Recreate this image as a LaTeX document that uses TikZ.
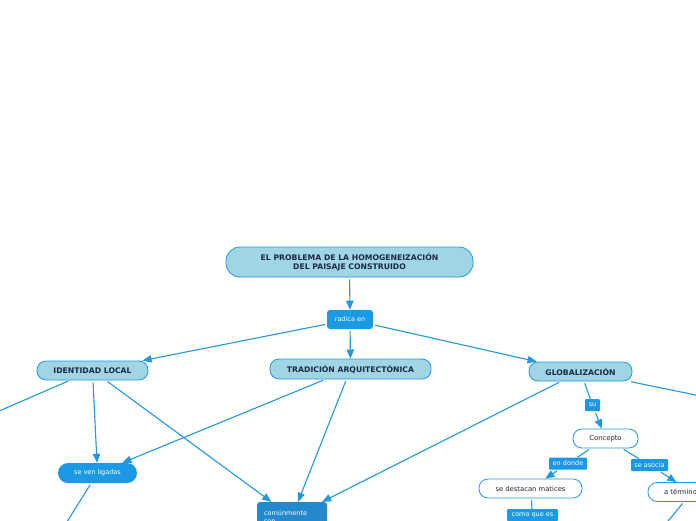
\documentclass[tikz,border=0pt]{standalone}
\usepackage{fontspec}
\setmainfont{DejaVu Sans}
\usetikzlibrary{arrows, calc, positioning}
\definecolor{linea}{RGB}{33,152,224}
\definecolor{celeste}{RGB}{160,214,228}
\definecolor{azul}{RGB}{27,153,229}
\definecolor{azuloscuro}{RGB}{35,136,204}
\definecolor{tinta}{RGB}{25,40,75}
\newcommand{\drawl}{\draw[line width=1.1pt, color=linea, shorten <=2pt]}
\tikzset{
  tema/.style={draw=linea, fill=celeste, line width=0.8pt, rounded corners=9pt, inner sep=0pt,
    font=\fontsize{7.7}{9.5}\selectfont\bfseries, text=tinta, align=center},
  enlace/.style={fill=azul, rounded corners=3pt, inner sep=0pt, font=\fontsize{6.5}{7.5}\selectfont, text=white},
  etiqueta/.style={fill=azul, rounded corners=1pt, inner sep=0pt, minimum height=12pt,
    font=\fontsize{6.5}{7.5}\selectfont, text=white},
  idea/.style={draw=linea, fill=white, line width=0.8pt, rounded corners=9pt, inner sep=0pt,
    minimum height=19pt, font=\fontsize{6.8}{8}\selectfont, text=black!85},
}

\begin{document}
\begin{tikzpicture}[x=1pt, y=-1pt, >=triangle 45]
\useasboundingbox (0,0) rectangle (696,520);
\clip (0,0) rectangle (696,520);
%\draw[color=blue!20] (0,0) grid[step=20] (696,520);
% Tema central
\node[tema, rounded corners=14pt, minimum width=247pt, minimum height=30pt] (titulo) at (349.5,262)
  {EL PROBLEMA DE LA HOMOGENEIZACIÓN\\DEL PAISAJE CONSTRUIDO};
\node[enlace, minimum width=46pt, minimum height=19pt] (radica) at (350,319.5) {radica en};

% Tres temas
\node[tema, minimum width=111pt, minimum height=19pt] (identidad) at (92.5,370.5) {IDENTIDAD LOCAL};
\node[tema, minimum width=161pt, minimum height=20pt] (tradicion) at (350.5,369) {TRADICIÓN ARQUITECTÓNICA};
\node[tema, minimum width=103pt, minimum height=19pt] (global) at (580.5,371.5) {GLOBALIZACIÓN};

% Enlaces inferiores
\node[enlace, rounded corners=10pt, minimum width=79pt, minimum height=20pt] (ligadas) at (97.5,473) {se ven ligadas};
\node[enlace, fill=azuloscuro, minimum width=70pt, minimum height=30pt, text width=56pt, align=left] (comun) at (292,517)
  {comúnmente\\son};

% Rama de globalizacion
\node[etiqueta, minimum width=15pt] (su) at (592.5,405) {su};
\node[idea, minimum width=65pt] (concepto) at (605.5,438.5) {Concepto};
\node[etiqueta, minimum width=38pt] (donde) at (568,463.5) {en donde};
\node[etiqueta, minimum width=37pt] (asocia) at (649.5,465) {se asocia};
\node[idea, minimum width=103pt] (matices) at (530.5,488.5) {se destacan matices};
\node[idea, minimum width=88pt, text width=56pt, align=left, inner xsep=16pt] (termino) at (692,492) {a términos};
\node[etiqueta, minimum width=51pt] (comoque) at (532.5,515) {como que es};

% Salidas fuera del cuadro
\coordinate (fueraA) at (-40,428);
\coordinate (fueraB) at (740,404);
\coordinate (fueraC) at (40,565);
\coordinate (fueraD) at (636,560);

% Conectores
\drawl[->] (titulo) -- (radica);
\drawl[->] (radica) -- (identidad);
\drawl[->] (radica) -- (tradicion);
\drawl[->] (radica) -- (global);
\drawl (identidad) -- (fueraA);
\drawl[->] (identidad) -- (ligadas);
\drawl[->] (identidad) -- (comun);
\drawl[->] (tradicion) -- (ligadas);
\drawl[->] (tradicion) -- (comun);
\drawl[->] (global) -- (comun);
\drawl (global) -- (fueraB);
\drawl (ligadas) -- (fueraC);
\drawl (global) -- (su);
\drawl[->] (su) -- (concepto);
\drawl (concepto) -- (donde);
\drawl[->] (donde) -- (matices);
\drawl (concepto) -- (asocia);
\drawl[->] (asocia) -- (termino);
\drawl (matices) -- (comoque);
\drawl (termino) -- (fueraD);
\end{tikzpicture}
\end{document}
